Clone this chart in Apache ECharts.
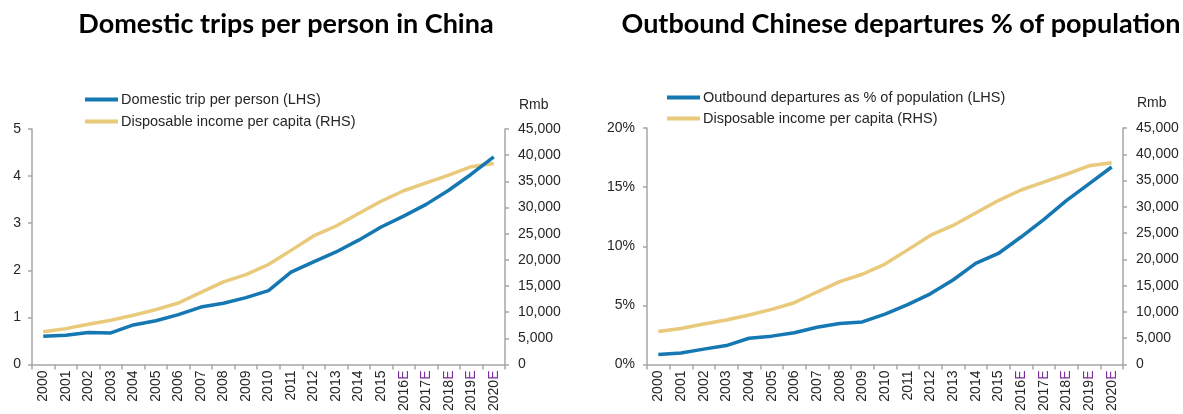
<!DOCTYPE html>
<html>
<head>
<meta charset="utf-8">
<script src="https://cdn.jsdelivr.net/npm/echarts@6/dist/echarts.min.js"></script>
<style>
html,body{margin:0;padding:0;background:#fff;}
#c{width:1183px;height:414px;}
</style>
</head>
<body>
<div id="c"></div>
<script>
const categories = ['2000','2001','2002','2003','2004','2005','2006','2007','2008','2009','2010','2011','2012','2013','2014','2015','2016E','2017E','2018E','2019E','2020E'];
const domesticTrips = [0.60,0.62,0.68,0.67,0.84,0.93,1.06,1.22,1.30,1.42,1.57,1.96,2.18,2.39,2.64,2.92,3.15,3.40,3.70,4.04,4.41];
const incomePerCapita = [6280,6860,7700,8470,9420,10490,11760,13790,15780,17170,19110,21810,24565,26467,28844,31195,33200,34700,36200,37800,38400];
const outboundPct = [0.84,0.98,1.30,1.60,2.22,2.40,2.68,3.15,3.47,3.60,4.26,5.06,5.98,7.15,8.55,9.39,10.78,12.25,13.86,15.28,16.70];
const titles = ['Domestic trips per person in China','Outbound Chinese departures % of population'];
const nameTrips = 'Domestic trip per person (LHS)';
const nameOut = 'Outbound departures as % of population (LHS)';
const nameIncome = 'Disposable income per capita (RHS)';

const BLUE = '#1578b3', GOLD = '#e9c97a', AXIS = '#a6a6a6', TXT = '#262626';
const FONT = 'Liberation Sans, Arial, sans-serif';

function xAxis(gi){
  return {
    type:'category', gridIndex:gi, data:categories, boundaryGap:true,
    axisLine:{lineStyle:{color:AXIS,width:1.5}},
    axisTick:{show:true,length:5,lineStyle:{color:AXIS,width:1.5},alignWithLabel:false},
    axisLabel:{rotate:90,margin:6,interval:0,fontFamily:FONT,fontSize:14,color:TXT,
      formatter:function(v){return v.endsWith('E') ? '{n|'+v.slice(0,-1)+'}{e|E}' : '{n|'+v+'}';},
      rich:{n:{color:TXT,fontFamily:FONT,fontSize:14},e:{color:'#7a2e9e',fontFamily:FONT,fontSize:14}}},
    splitLine:{show:false}
  };
}
function yAxisBase(gi,pos,margin){
  return {
    type:'value', gridIndex:gi, position:pos,
    axisLine:{show:true,lineStyle:{color:AXIS,width:1.5}},
    axisTick:{show:true,length:4,lineStyle:{color:AXIS,width:1.5}},
    axisLabel:{fontFamily:FONT,fontSize:14,color:TXT,margin:margin},
    splitLine:{show:false}
  };
}

const titleStyle = {fontFamily:'Lato, Open Sans, sans-serif',fontWeight:'bold',fontSize:27,color:'#000'};
const legendText = {fontFamily:FONT,fontSize:14.5,color:TXT,padding:[0,0,0,-2]};

const option = {
  animation:false,
  backgroundColor:'#fff',
  title:[
    {text:titles[0],left:281,top:6,textAlign:'center',textStyle:titleStyle},
    {text:titles[1],left:896,top:6,textAlign:'center',textStyle:titleStyle}
  ],
  legend:[
    {data:[nameTrips,nameIncome],orient:'vertical',left:85,top:92,padding:0,itemWidth:33,itemHeight:4,itemGap:7,icon:'rect',textStyle:legendText},
    {data:[nameOut,nameIncome],orient:'vertical',left:667,top:90,padding:0,itemWidth:33,itemHeight:4,itemGap:6,icon:'rect',textStyle:legendText}
  ],
  grid:[
    {left:32,right:678,top:129,bottom:48,containLabel:false},
    {left:647,right:60,top:128,bottom:49,containLabel:false}
  ],
  xAxis:[xAxis(0),xAxis(1)],
  yAxis:[
    Object.assign(yAxisBase(0,'left',11),{min:0,max:5,interval:1}),
    Object.assign(yAxisBase(0,'right',13),{min:0,max:45000,interval:5000}),
    Object.assign(yAxisBase(1,'left',12),{min:0,max:20,interval:5,axisLabel:{fontFamily:FONT,fontSize:14,color:TXT,margin:12,formatter:'{value}%'}}),
    Object.assign(yAxisBase(1,'right',13),{min:0,max:45000,interval:5000})
  ],
  graphic:[
    {type:'text',left:519,top:98,style:{text:'Rmb',font:'14px '+FONT,fill:TXT}},
    {type:'text',left:1137,top:96,style:{text:'Rmb',font:'14px '+FONT,fill:TXT}}
  ],
  series:[
    {name:nameIncome,type:'line',xAxisIndex:0,yAxisIndex:1,data:incomePerCapita,symbol:'none',lineStyle:{color:GOLD,width:3.5},itemStyle:{color:GOLD}},
    {name:nameTrips,type:'line',xAxisIndex:0,yAxisIndex:0,data:domesticTrips,symbol:'none',lineStyle:{color:BLUE,width:3.5},itemStyle:{color:BLUE}},
    {name:nameIncome,type:'line',xAxisIndex:1,yAxisIndex:3,data:incomePerCapita,symbol:'none',lineStyle:{color:GOLD,width:3.5},itemStyle:{color:GOLD}},
    {name:nameOut,type:'line',xAxisIndex:1,yAxisIndex:2,data:outboundPct,symbol:'none',lineStyle:{color:BLUE,width:3.5},itemStyle:{color:BLUE}}
  ]
};
echarts.init(document.getElementById('c'),null,{renderer:'canvas'}).setOption(option);
</script>
</body>
</html>
